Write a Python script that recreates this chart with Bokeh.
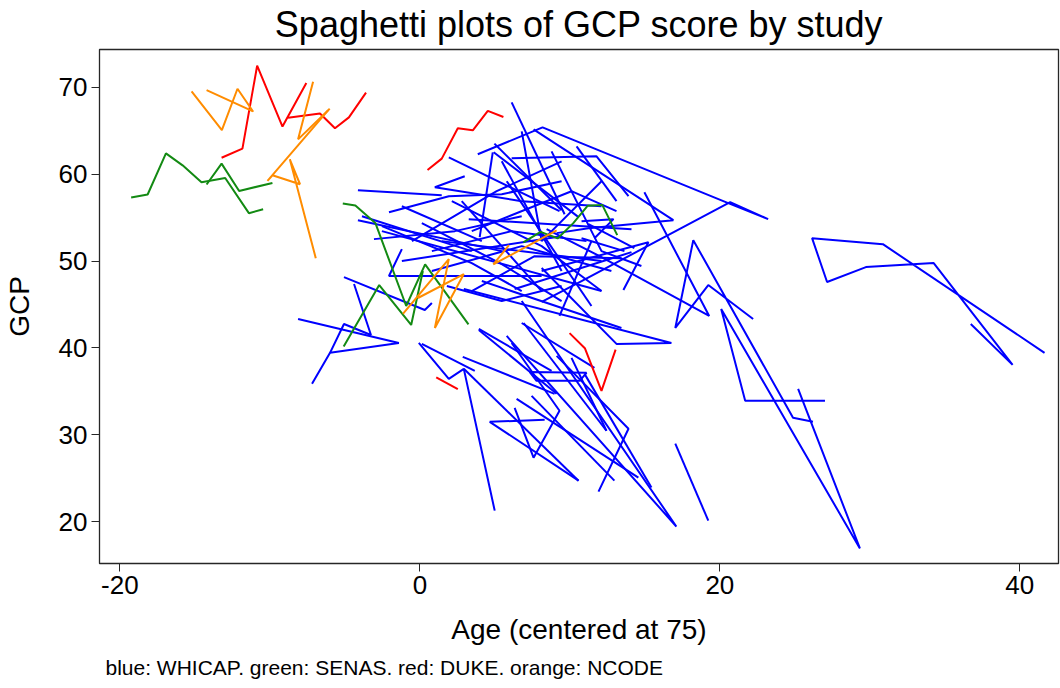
from bokeh.plotting import figure
from bokeh.models import Range1d, FixedTicker, ColumnDataSource, Title
from bokeh.embed import file_html
from bokeh.resources import INLINE

# ---------------- data (age centered at 75, GCP score), one list per trajectory ----------------
whicap_age = [
    [41.65, 30.87, 26.15, 27.15, 29.74, 34.26, 39.52, 36.73],
    [3.86, 8.18, 20.56, 23.22, 20.69, 10.78, 8.12],
    [7.58, 16.90, 11.24, 9.12],
    [14.97, 19.29, 12.11, 8.45],
    [22.22, 19.23, 17.03, 18.23, 24.88, 26.21],
    [27.01, 21.69, 20.09, 29.34, 25.22],
    [17.03, 19.23],
    [2.93, 16.77, 13.11, 8.12],
    [8.12, 15.24, 13.57],
    [6.12, 11.78, 13.91],
    [6.12, 9.65],
    [-8.12, -1.40, -5.99, -7.19],
    [-5.99, -5.06, -3.26, -4.39],
    [-5.06, 0.33, 0.80],
    [-0.07, 1.93, 2.93, 4.99],
    [2.93, 10.58],
    [8.32, 4.66, 10.58],
    [6.32, 7.58, 9.31, 6.12],
    [2.86, 8.98],
    [3.93, 9.12],
    [6.92, 12.44],
    [7.32, 11.11, 10.65, 7.78, 7.32],
    [9.12, 13.91, 11.91],
    [10.11, 12.44],
    [10.98, 15.44],
    [6.79, 17.10, 5.79],
    [6.45, 14.57],
    [7.45, 12.97],
    [-4.13, 5.46],
    [-3.06, 2.33, 6.79],
    [-2.06, 1.93, 5.46, 9.45],
    [-4.13, 1.46],
    [-1.20, -2.06, 8.12],
    [1.93, 9.31],
    [2.99, 1.00, 6.79, 12.11],
    [4.86, 3.99],
    [4.92, 10.58],
    [3.26, 14.11],
    [3.46, 7.65, 13.44],
    [6.32, 14.11],
    [4.13, 13.44],
    [6.79, 11.64],
    [3.93, 8.78],
    [0.13, 3.66],
    [9.31, 11.44],
    [0.13, 5.46, 9.45],
    [10.78, 12.91, 11.64],
    [10.78, 13.64],
    [11.24, 14.30],
    [-0.53, 5.12, 9.45],
    [-2.53, 3.46, 6.79],
    [0.80, 6.12, 11.11],
    [2.13, 8.12, 12.11],
    [-1.20, 4.13],
    [4.97, 9.45],
    [-2.53, 12.11],
    [-1.20, 9.45],
    [1.46, 12.11],
    [2.79, 8.12],
    [5.46, 9.45],
    [6.79, 8.12, 12.11],
    [0.80, 6.79, 12.77],
    [3.46, 10.11, 13.11],
    [-3.86, 3.46],
    [8.78, 12.11, 14.77],
    [1.80, 5.46, 9.45],
    [10.45, 13.11],
    [5.79, 11.44],
]
whicap_gcp = [
    [39.43, 51.95, 52.64, 47.59, 49.31, 49.77, 38.05, 42.76],
    [62.30, 65.40, 56.67, 54.83, 56.78, 47.70, 45.29],
    [65.17, 54.71, 53.79, 53.22],
    [57.93, 43.68, 50.46, 53.68],
    [43.33, 47.24, 42.30, 52.41, 31.95, 31.49],
    [33.91, 33.91, 44.48, 16.90, 35.29],
    [28.97, 20.11],
    [46.78, 40.57, 40.46, 49.20],
    [48.85, 52.18, 46.67],
    [61.84, 62.07, 57.47],
    [68.28, 55.40],
    [43.33, 40.57, 39.43, 35.86],
    [39.43, 42.76, 41.49, 47.36],
    [48.16, 44.37, 45.17],
    [40.57, 36.44, 37.59, 21.26],
    [37.59, 24.71],
    [31.72, 31.49, 24.71],
    [33.10, 27.36, 32.76, 40.57],
    [38.97, 34.71],
    [42.07, 34.71],
    [42.87, 30.46],
    [37.24, 37.13, 36.21, 36.21, 37.24],
    [39.08, 30.69, 23.45],
    [38.85, 30.46],
    [37.01, 23.91],
    [45.40, 19.43, 41.38],
    [34.14, 25.06],
    [34.48, 24.71],
    [54.71, 51.15],
    [52.53, 53.45, 55.17],
    [55.63, 57.47, 57.70, 59.20],
    [58.16, 57.59],
    [51.38, 48.28, 48.28],
    [61.95, 55.75],
    [59.77, 58.51, 56.90, 56.32],
    [62.53, 52.76],
    [62.53, 55.06],
    [54.83, 53.68],
    [46.55, 50.57, 50.34],
    [46.78, 51.03],
    [47.70, 42.30],
    [42.87, 37.70],
    [42.18, 37.36],
    [40.46, 37.36],
    [43.68, 52.30],
    [54.37, 49.66, 45.40],
    [54.60, 54.83, 52.64],
    [52.64, 51.15],
    [54.25, 51.49],
    [52.30, 58.05, 61.49],
    [54.02, 49.77, 46.55],
    [51.15, 53.45, 52.30],
    [56.90, 51.72, 46.55],
    [56.32, 52.30],
    [63.53, 55.86],
    [53.45, 46.55],
    [50.00, 52.87],
    [52.30, 50.00],
    [56.90, 46.55],
    [61.49, 48.85],
    [64.94, 52.30, 59.20],
    [48.85, 51.72, 48.85],
    [53.45, 58.05, 55.75],
    [55.17, 51.15],
    [62.64, 51.15, 49.43],
    [47.13, 45.40, 47.13],
    [63.22, 56.90],
    [59.20, 44.83],
]

senas_age = [
    [-19.25, -18.15, -16.93, -15.82, -14.56, -12.98, -11.40, -10.45],
    [-14.22, -13.22, -12.05, -9.83],
    [-5.14, -4.30, -2.97, -0.91, 0.35, 3.24],
    [-5.08, -2.71, -0.58, 0.20],
    [6.90, 8.05, 9.18, 10.23, 11.18, 12.16, 13.16],
]
senas_gcp = [
    [57.32, 57.67, 62.41, 61.03, 59.08, 59.57, 55.52, 55.98],
    [58.82, 61.23, 58.08, 59.00],
    [56.63, 56.40, 54.40, 44.83, 49.62, 42.72],
    [40.15, 47.24, 42.64, 48.85],
    [52.15, 53.37, 52.61, 54.37, 56.36, 56.47, 52.99],
]

duke_age = [
    [-13.22, -11.83, -10.85, -9.16, -7.57],
    [-8.79, -6.66, -5.66, -4.73, -3.59],
    [0.51, 1.46, 2.53, 3.53, 4.53, 5.57],
    [9.98, 11.00, 12.11, 13.05],
    [1.09, 2.53],
]
duke_gcp = [
    [61.90, 62.95, 72.50, 65.50, 70.50],
    [66.50, 67.00, 65.30, 66.55, 69.40],
    [60.50, 61.80, 65.30, 65.06, 67.30, 66.60],
    [41.70, 39.97, 35.06, 39.80],
    [36.60, 35.25],
]

ncode_age = [
    [-15.22, -13.20, -12.16, -11.11],
    [-14.22, -11.16],
    [-7.12, -8.12, -6.01],
    [-6.12, -10.16, -9.83, -7.99, -8.67, -6.94],
    [-1.13, 1.93, 1.00, 2.93, -0.13],
    [5.94, 4.90, 9.12],
]
ncode_gcp = [
    [69.54, 65.09, 69.85, 67.20],
    [69.69, 67.28],
    [70.66, 64.02, 67.55],
    [67.36, 59.23, 59.89, 58.85, 61.72, 50.34],
    [43.91, 50.23, 42.30, 48.51, 45.75],
    [51.84, 49.62, 53.53],
]

x_ticks = [-20, 0, 20, 40]
y_ticks = [20, 30, 40, 50, 60, 70]

title_text = "Spaghetti plots of GCP score by study"
note_text = "blue: WHICAP. green: SENAS. red: DUKE. orange: NCODE"

# ---------------- figure ----------------
FONT = "Liberation Sans"
p = figure(width=1060, height=688, output_backend="svg", toolbar_location=None,
           x_range=Range1d(-21.36, 42.58), y_range=Range1d(15.17, 74.37),
           min_border_left=97, min_border_right=2, min_border_top=48, min_border_bottom=125)
p.title.text = title_text
p.title.text_font = FONT
p.title.text_font_size = "36px"
p.title.text_font_style = "normal"
p.title.align = "center"
p.title.vertical_align = "top"
p.title.text_color = "black"
p.title.standoff = 6
p.background_fill_color = "white"
p.border_fill_color = "white"
p.outline_line_color = "#262626"
p.outline_line_width = 1.3
p.xgrid.visible = False
p.ygrid.visible = False

studies = [
    (whicap_age, whicap_gcp, "#0000ff"),
    (senas_age, senas_gcp, "#138a13"),
    (duke_age, duke_gcp, "#ff0000"),
    (ncode_age, ncode_gcp, "#ff8c00"),
]
for xs, ys, col in studies:
    src = ColumnDataSource(dict(xs=xs, ys=ys))
    p.multi_line("xs", "ys", source=src, line_color=col, line_width=2)

for ax in (p.xaxis[0], p.yaxis[0]):
    ax.major_tick_out = 8
    ax.major_tick_in = 0
    ax.minor_tick_line_color = None
    ax.major_tick_line_color = "#262626"
    ax.axis_line_color = "#262626"
    ax.major_label_text_font = FONT
    ax.major_label_text_font_size = "26px"
    ax.major_label_text_color = "black"
    ax.major_label_standoff = 4
    ax.axis_label_text_font = FONT
    ax.axis_label_text_font_size = "28px"
    ax.axis_label_text_font_style = "normal"
    ax.axis_label_text_color = "black"

p.xaxis.ticker = FixedTicker(ticks=x_ticks)
p.yaxis.ticker = FixedTicker(ticks=y_ticks)
p.xaxis.major_label_overrides = {t: str(t) for t in x_ticks}
p.xaxis.axis_label = "Age (centered at 75)"
p.yaxis.axis_label = "GCP"
p.xaxis.axis_label_standoff = 17
p.yaxis.axis_label_standoff = 21

p.add_layout(Title(text=note_text, align="left", offset=6, standoff=13,
                   text_font=FONT, text_font_size="21px", text_font_style="normal",
                   text_color="black"), "below")

open("out.html", "w").write(file_html(p, INLINE))
